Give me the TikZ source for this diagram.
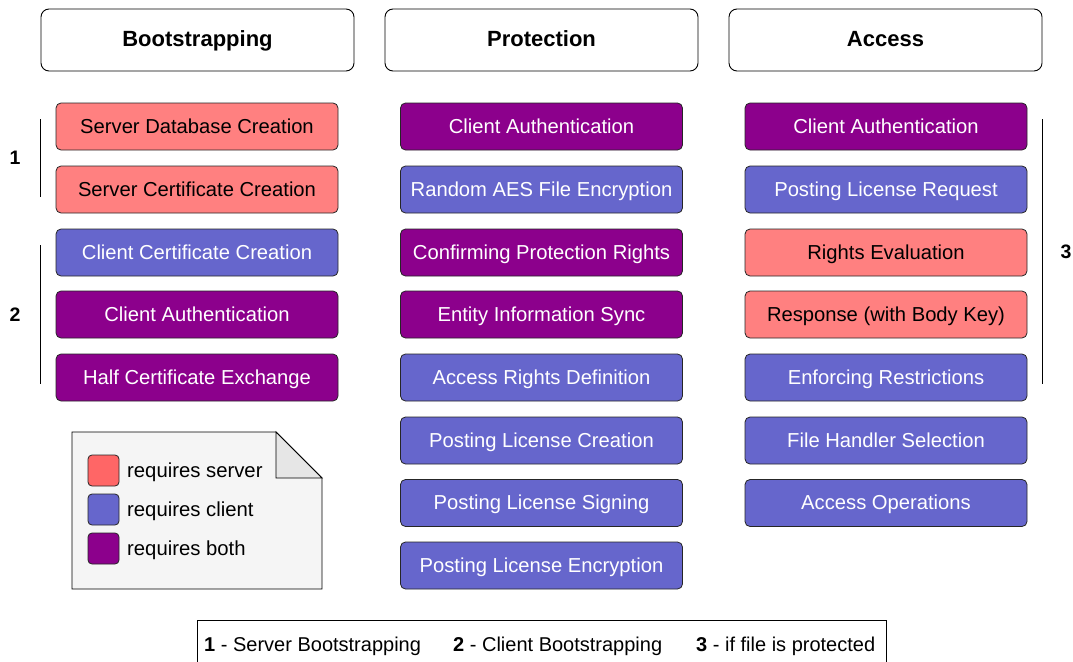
\documentclass[tikz,border=0pt]{standalone}
\usepackage{fontspec}
\setmainfont{Liberation Sans}
\definecolor{srv}{HTML}{FF8080}
\definecolor{cli}{HTML}{6666CC}
\definecolor{both}{HTML}{8C008C}
\definecolor{srvl}{HTML}{FF6666}
\definecolor{paper}{HTML}{F5F5F5}
\definecolor{fold}{HTML}{E6E6E6}
\begin{document}
\begin{tikzpicture}[x=1pt,y=-1pt,
  hdr/.style={draw=black,line width=0.9pt,rounded corners=8pt,fill=white,minimum width=313pt,minimum height=62pt,font=\fontsize{22}{24}\selectfont\bfseries,text height=15.5pt,text depth=2.1pt,inner sep=0pt},
  stepbox/.style={draw=black!85,line width=0.8pt,rounded corners=5pt,minimum width=282pt,minimum height=47pt,font=\fontsize{20.2}{22}\selectfont,inner sep=0pt,text height=14pt,text depth=0.4pt},
  sv/.style={stepbox,fill=srv,text=black},
  cl/.style={stepbox,fill=cli,text=white},
  bo/.style={stepbox,fill=both,text=white},
  swatch/.style={draw=black!85,line width=0.8pt,rounded corners=4pt,minimum width=31pt,minimum height=31pt,inner sep=0pt},
  lbl/.style={font=\fontsize{20.3}{22}\selectfont,anchor=west,inner sep=0pt,text height=14pt,text depth=0.4pt},
  num/.style={font=\fontsize{19.5}{22}\selectfont\bfseries,inner sep=0pt},
  keytxt/.style={font=\fontsize{20}{22}\selectfont,inner sep=0pt,anchor=base west},
  brk/.style={line width=0.9pt}]
\useasboundingbox (0,0) rectangle (1073,661);
% headers
\node[hdr] (h1) at (197.5,40) {Bootstrapping};
\node[hdr] (h2) at (541.5,40) {Protection};
\node[hdr] (h3) at (885.5,40) {Access};
% column 1
\node[sv] (a1) at (197,126.5) {Server Database Creation};
\node[sv] (a2) at (197,189.5) {Server Certificate Creation};
\node[cl] (a3) at (197,252.5) {Client Certificate Creation};
\node[bo] (a4) at (197,314.5) {Client Authentication};
\node[bo] (a5) at (197,377.5) {Half Certificate Exchange};
% column 2
\node[bo] (b1) at (541.5,126.5) {Client Authentication};
\node[cl] (b2) at (541.5,189.5) {Random AES File Encryption};
\node[bo] (b3) at (541.5,252.5) {Confirming Protection Rights};
\node[bo] (b4) at (541.5,314.5) {Entity Information Sync};
\node[cl] (b5) at (541.5,377.5) {Access Rights Definition};
\node[cl] (b6) at (541.5,440.5) {Posting License Creation};
\node[cl] (b7) at (541.5,503) {Posting License Signing};
\node[cl] (b8) at (541.5,565.5) {Posting License Encryption};
% column 3
\node[bo] (c1) at (886,126.5) {Client Authentication};
\node[cl] (c2) at (886,189.5) {Posting License Request};
\node[sv] (c3) at (886,252.5) {Rights Evaluation};
\node[sv] (c4) at (886,314.5) {Response (with Body Key)};
\node[cl] (c5) at (886,377.5) {Enforcing Restrictions};
\node[cl] (c6) at (886,440.5) {File Handler Selection};
\node[cl] (c7) at (886,503) {Access Operations};
% brackets
\coordinate (g1t) at (40,119); \coordinate (g1b) at (40,197);
\draw[brk] (g1t) -- (g1b);
\node[num] (n1) at (15,158) {1};
\coordinate (g2t) at (40,245); \coordinate (g2b) at (40,384);
\draw[brk] (g2t) -- (g2b);
\node[num] (n2) at (15,315) {2};
\coordinate (g3t) at (1042,119); \coordinate (g3b) at (1042,384);
\draw[brk] (g3t) -- (g3b);
\node[num] (n3) at (1066,252) {3};
% legend
\draw[line width=0.9pt,fill=paper] (72,432) -- (276,432) -- (322,478) -- (322,589) -- (72,589) -- cycle;
\draw[line width=0.9pt,fill=fold] (276,432) -- (276,478) -- (322,478) -- cycle;
\node[swatch,fill=srvl] (s1) at (103.5,470.5) {};
\node[swatch,fill=cli] (s2) at (103.5,509.5) {};
\node[swatch,fill=both] (s3) at (103.5,548.5) {};
\node[lbl] (t1) at (127,471) {requires server};
\node[lbl] (t2) at (127,510) {requires client};
\node[lbl] (t3) at (127,549) {requires both};
% bottom key
\draw[line width=0.9pt,fill=white] (197,620) rectangle (886,670);
\node[keytxt] (k1) at (204,651.7) {\textbf{1} - Server Bootstrapping};
\node[keytxt] (k2) at (453,651.7) {\textbf{2} - Client Bootstrapping};
\node[keytxt] (k3) at (696,651.7) {\textbf{3} - if file is protected};
\end{tikzpicture}
\end{document}
